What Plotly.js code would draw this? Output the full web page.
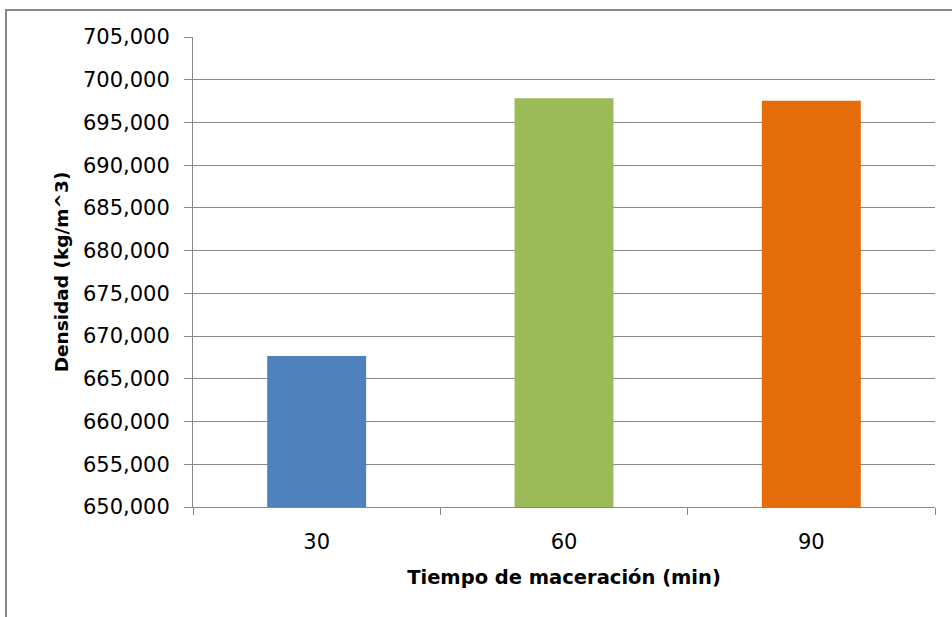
<!DOCTYPE html>
<html>
<head>
<meta charset="utf-8">
<script src="https://cdn.plot.ly/plotly-3.0.1.min.js"></script>
<style>
  html, body { margin: 0; padding: 0; background: #fff; }
  #frame { position: absolute; left: 5px; top: 9px; width: 960px; height: 620px;
           border-left: 2px solid #878787; border-top: 2px solid #878787; box-sizing: border-box; }
  #chart { position: absolute; left: 0; top: 0; width: 952px; height: 617px; }
</style>
</head>
<body>
<div id="frame"></div>
<div id="chart"></div>
<script>
const categories = ["30", "60", "90"];
const densidad = [667.67, 697.82, 697.54];
const barColors = ["#4F81BD", "#9BBB59", "#E46C0A"];
const yTitle = "Densidad (kg/m^3)";
const xTitle = "Tiempo de maceración (min)";

const trace = {
  type: "bar",
  x: categories,
  y: densidad,
  marker: { color: barColors, line: { width: 0 } },
  hoverinfo: "x+y"
};

const layout = {
  width: 952,
  height: 617,
  paper_bgcolor: "rgba(0,0,0,0)",
  plot_bgcolor: "rgba(0,0,0,0)",
  margin: { l: 193, r: 17, t: 37, b: 110 },
  bargap: 0.6,
  showlegend: false,
  separators: ",.",
  font: { family: "DejaVu Sans", color: "#000" },
  xaxis: {
    type: "category",
    tickson: "boundaries",
    ticks: "outside",
    ticklen: 7,
    tickcolor: "#878787",
    ticklabelstandoff: 16,
    showline: true,
    linecolor: "#878787",
    linewidth: 1,
    showgrid: false,
    tickfont: { family: "DejaVu Sans", size: 21, color: "#000" },
    title: { text: xTitle, font: { family: "DejaVu Sans", size: 19.5, color: "#000", weight: "bold" }, standoff: 17 }
  },
  yaxis: {
    range: [650, 705],
    dtick: 5,
    tick0: 650,
    tickformat: ".3f",
    ticks: "outside",
    ticklen: 8,
    tickcolor: "#878787",
    ticklabelstandoff: 10,
    showline: true,
    linecolor: "#878787",
    linewidth: 1,
    showgrid: true,
    gridcolor: "#878787",
    gridwidth: 1,
    zeroline: false,
    tickfont: { family: "DejaVu Sans", size: 21, color: "#000" },
    title: { text: yTitle, font: { family: "DejaVu Sans", size: 18.5, color: "#000", weight: "bold" }, standoff: 9 }
  }
};

Plotly.newPlot("chart", [trace], layout, { displayModeBar: false, staticPlot: true });
</script>
</body>
</html>
